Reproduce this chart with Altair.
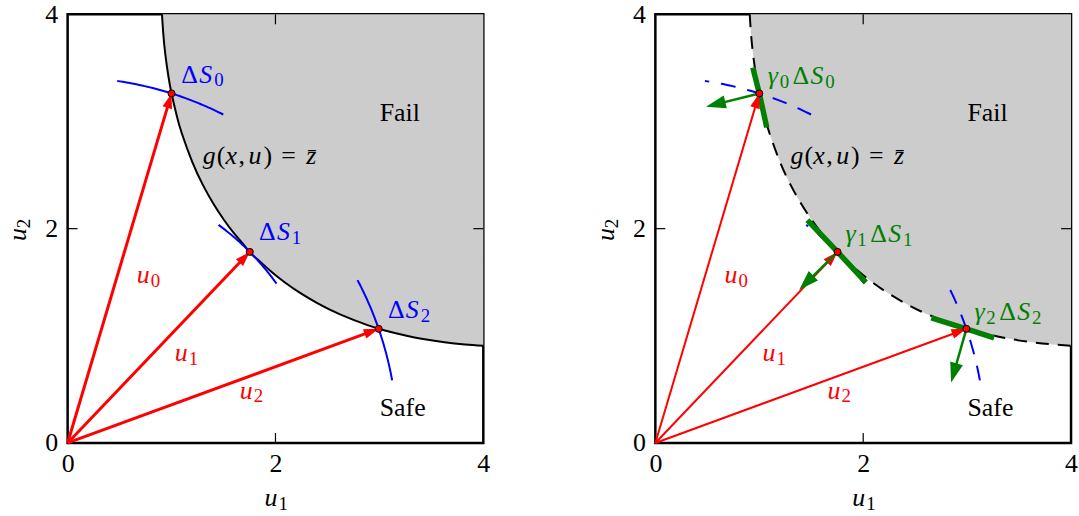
import math

import altair as alt
import pandas as pd

# Limit-state boundary g(x, u) = z-bar traced in the (u1, u2) plane
boundary_u1 = [0.908, 0.920, 0.940, 0.970, 1.000, 1.050, 1.100, 1.200, 1.300, 1.400,
               1.500, 1.600, 1.700, 1.765, 1.843, 1.958, 2.088, 2.237, 2.411, 2.621,
               2.886, 3.054, 3.262, 3.420, 3.627, 3.825, 4.000]
boundary_u2 = [4.000, 3.825, 3.627, 3.420, 3.262, 3.054, 2.886, 2.621, 2.411, 2.237,
               2.088, 1.958, 1.843, 1.765, 1.700, 1.600, 1.500, 1.400, 1.300, 1.200,
               1.100, 1.050, 1.000, 0.970, 0.940, 0.920, 0.908]

# Sample points u_i lying on the boundary
point_u1 = [1.000, 1.753, 2.993]
point_u2 = [3.262, 1.783, 1.065]
point_idx = ["0", "1", "2"]

# gamma_i * dS_i: the stretch of boundary carried by each sample
patch_start_u1 = [0.938, 1.463, 2.656]
patch_start_u2 = [3.503, 2.080, 1.167]
patch_end_u1 = [1.072, 2.026, 3.260]
patch_end_u2 = [2.946, 1.498, 0.981]

# Tips of the normal vectors drawn from each sample point
normal_tip_u1 = [0.487, 1.384, 2.846]
normal_tip_u2 = [3.138, 1.430, 0.564]

# dS_i: arcs of the circle |u| = |u_i|, this many degrees each side of u_i
ARC_HALF_DEG = 9.0

# ---------------------------------------------------------------- layout
W, H = 418, 431
PX_X, PX_Y = W / 4.0, H / 4.0
SERIF = "Liberation Serif"
MAIN_SIZE, SUB_SIZE = 26, 19
RED, BLUE, GREEN, FILL = "#ff0000", "#0000ff", "#008000", "#cccccc"

# arrowhead symbol: tip at the anchor, base one unit behind it
HEAD_PATH = "M0,0L-0.33,1L0.33,1Z"

sx = alt.Scale(domain=[0, 4], nice=False, zero=False)
sy = alt.Scale(domain=[0, 4], nice=False, zero=False)
axis_common = dict(
    values=[0, 2, 4], ticks=False, domain=False, grid=False, title=None,
    labelFont=SERIF, labelFontSize=MAIN_SIZE, labelColor="black",
    labelFlush=False, labelOverlap=False, labelBound=False, format="d",
)
ax_x = alt.Axis(labelPadding=8, **axis_common)
ax_y = alt.Axis(labelPadding=10, **axis_common)


def X(field):
    return alt.X(field, type="quantitative", scale=sx, axis=ax_x)


def Y(field):
    return alt.Y(field, type="quantitative", scale=sy, axis=ax_y)


boundary = pd.DataFrame({"u1": boundary_u1, "u2": boundary_u2, "top": 4.0})
points = pd.DataFrame({"u1": point_u1, "u2": point_u2, "i": point_idx})

# circular arcs through the sample points
arc_rows = []
for i, (a, b) in enumerate(zip(point_u1, point_u2)):
    r = math.hypot(a, b)
    th0 = math.atan2(b, a)
    for k in range(41):
        th = th0 + math.radians(ARC_HALF_DEG) * (2 * k / 40 - 1)
        arc_rows.append({"u1": r * math.cos(th), "u2": r * math.sin(th), "i": i, "k": k})
arcs = pd.DataFrame(arc_rows)

patch_rows = []
for i in range(3):
    seq = [(patch_start_u1[i], patch_start_u2[i]), (point_u1[i], point_u2[i]),
           (patch_end_u1[i], patch_end_u2[i])]
    for k, (a, b) in enumerate(seq):
        patch_rows.append({"u1": a, "u2": b, "i": i, "k": k})
patches = pd.DataFrame(patch_rows)


def arrows(x0, y0, x1, y1, head_len):
    """Shaft end points and head rotation for arrows from (x0, y0) to (x1, y1)."""
    rows = []
    for a, b, c, d in zip(x0, y0, x1, y1):
        px, py = (c - a) * PX_X, (d - b) * PX_Y
        n = math.hypot(px, py)
        ux, uy = px / n, py / n
        back = head_len * 0.8
        rows.append({
            "x0": a, "y0": b, "x1": c, "y1": d,
            "xs": c - back * ux / PX_X, "ys": d - back * uy / PX_Y,
            "ang": math.degrees(math.atan2(px, py)) % 360,
        })
    return pd.DataFrame(rows)


red_head = 15
green_head = 20
red_arrows = arrows([0, 0, 0], [0, 0, 0], point_u1, point_u2, red_head)
green_arrows = arrows(point_u1, point_u2, normal_tip_u1, normal_tip_u2, green_head)


# ---------------------------------------------------------------- labels
def piece(rows, u1, u2, parts, color):
    for text, italic, size, dx, dy in parts:
        rows.append({"u1": u1 + dx / PX_X, "u2": u2 - dy / PX_Y, "text": text,
                     "italic": italic, "size": size, "color": color})


def u_label(s):
    return [("u", True, MAIN_SIZE, 0, 0), (s, False, SUB_SIZE, 14, 4)]


def ds_label(s):
    return [("Δ", False, MAIN_SIZE, 0, 0), ("S", True, MAIN_SIZE, 18, 0),
            (s, False, SUB_SIZE, 33, 4)]


def gds_label(s):
    return [("γ", True, MAIN_SIZE, 0, 0), (s, False, SUB_SIZE, 12, 4),
            ("Δ", False, MAIN_SIZE, 25, 0), ("S", True, MAIN_SIZE, 43, 0),
            (s, False, SUB_SIZE, 58, 4)]


g_label = [("g", True, MAIN_SIZE, 0, 0), ("(", False, MAIN_SIZE, 14, 0),
           ("x", True, MAIN_SIZE, 23, 0), (",", False, MAIN_SIZE, 36, 0),
           ("u", True, MAIN_SIZE, 46, 0), (")", False, MAIN_SIZE, 61, 0),
           ("=", False, MAIN_SIZE, 79, 0), ("z\u0304", True, MAIN_SIZE, 104, 0)]

u_anchor = [(0.665, 1.492), (1.031, 0.764), (1.657, 0.415)]
ds_anchor = [(1.094, 3.364), (1.842, 1.894), (3.082, 1.167)]
gds_anchor = [(1.081, 3.349), (1.829, 1.873), (3.070, 1.151)]


def label_frame(right):
    rows = []
    piece(rows, 3.003, 3.008, [("Fail", False, MAIN_SIZE, 0, 0)], "black")
    piece(rows, 3.003, 0.248, [("Safe", False, MAIN_SIZE, 0, 0)], "black")
    piece(rows, 1.30, 2.606, g_label, "black")
    for (a, b), s in zip(u_anchor, point_idx):
        piece(rows, a, b, u_label(s), RED)
    if right:
        for (a, b), s in zip(gds_anchor, point_idx):
            piece(rows, a, b, gds_label(s), GREEN)
    else:
        for (a, b), s in zip(ds_anchor, point_idx):
            piece(rows, a, b, ds_label(s), BLUE)
    return pd.DataFrame(rows)


def text_layers(df):
    out = []
    for italic in (True, False):
        sub = df[df["italic"] == italic]
        out.append(
            alt.Chart(sub).mark_text(
                font=SERIF, fontStyle="italic" if italic else "normal",
                align="left", baseline="alphabetic",
            ).encode(
                x=X("u1"), y=Y("u2"), text="text:N",
                size=alt.Size("size:Q", scale=None),
                color=alt.Color("color:N", scale=None),
            )
        )
    return out


def axis_titles():
    one = pd.DataFrame({"a": [0]})
    out = []
    specs = [
        ("u", True, MAIN_SIZE, 198, 494, 0),
        ("1", False, SUB_SIZE, 212, 498, 0),
        ("u", True, MAIN_SIZE, -42, 228, 270),
        ("2", False, SUB_SIZE, -38, 215, 270),
    ]
    for text, italic, size, px, py, ang in specs:
        out.append(
            alt.Chart(one).mark_text(
                text=text, font=SERIF, fontSize=size, color="black",
                fontStyle="italic" if italic else "normal",
                align="left", baseline="alphabetic", angle=ang,
            ).encode(x=alt.value(px), y=alt.value(py))
        )
    return out


def inner_ticks():
    t = pd.DataFrame({"v": [2.0]})
    L = 10
    base = alt.Chart(t).mark_rule(color="black", strokeWidth=1.2)
    return [
        base.encode(x=X("v"), y=alt.value(H), y2=alt.value(H - L)),
        base.encode(x=X("v"), y=alt.value(0), y2=alt.value(L)),
        base.encode(y=Y("v"), x=alt.value(0), x2=alt.value(L)),
        base.encode(y=Y("v"), x=alt.value(W), x2=alt.value(W - L)),
    ]


def panel(right):
    layers = []
    layers.append(
        alt.Chart(boundary).mark_area(color=FILL, interpolate="natural", orient="vertical")
        .encode(x=X("u1"), y=Y("u2"), y2=alt.Y2("top"))
    )
    curve_kw = dict(color="black", strokeWidth=2, interpolate="natural")
    if right:
        curve_kw["strokeDash"] = [13, 9]
    layers.append(alt.Chart(boundary).mark_line(**curve_kw).encode(x=X("u1"), y=Y("u2")))

    arc_kw = dict(color=BLUE, strokeWidth=2)
    if right:
        arc_kw["strokeDash"] = [15, 12]
    layers.append(
        alt.Chart(arcs).mark_line(**arc_kw)
        .encode(x=X("u1"), y=Y("u2"), detail="i:N", order="k:Q")
    )
    if right:
        layers.append(
            alt.Chart(patches).mark_line(color=GREEN, strokeWidth=5.5, strokeCap="butt")
            .encode(x=X("u1"), y=Y("u2"), detail="i:N", order="k:Q")
        )

    layers.append(
        alt.Chart(red_arrows).mark_rule(color=RED, strokeWidth=2 if right else 3)
        .encode(x=X("x0"), y=Y("y0"), x2="xs", y2="ys")
    )
    layers.append(
        alt.Chart(red_arrows).mark_point(shape=HEAD_PATH, filled=True, color=RED,
                                         opacity=1, size=4 * red_head ** 2)
        .encode(x=X("x1"), y=Y("y1"), angle=alt.Angle("ang:Q", scale=None))
    )
    if right:
        layers.append(
            alt.Chart(green_arrows).mark_rule(color=GREEN, strokeWidth=2.5)
            .encode(x=X("x0"), y=Y("y0"), x2="xs", y2="ys")
        )
        layers.append(
            alt.Chart(green_arrows).mark_point(shape=HEAD_PATH, filled=True, color=GREEN,
                                               opacity=1, size=4 * green_head ** 2)
            .encode(x=X("x1"), y=Y("y1"), angle=alt.Angle("ang:Q", scale=None))
        )
    layers.append(
        alt.Chart(points).mark_circle(color=RED, opacity=1, size=50, stroke="black", strokeWidth=1)
        .encode(x=X("u1"), y=Y("u2"))
    )
    layers += inner_ticks()
    layers += text_layers(label_frame(right))
    layers += axis_titles()
    return alt.layer(*layers).properties(width=W, height=H)


chart = (
    alt.hconcat(panel(False), panel(True), spacing=100)
    .properties(padding={"left": 3, "top": -2, "right": 0, "bottom": 0})
    .configure_view(stroke="black", strokeWidth=2.5)
)

chart.save("out.html", embed_options={"renderer": "svg", "actions": False})
